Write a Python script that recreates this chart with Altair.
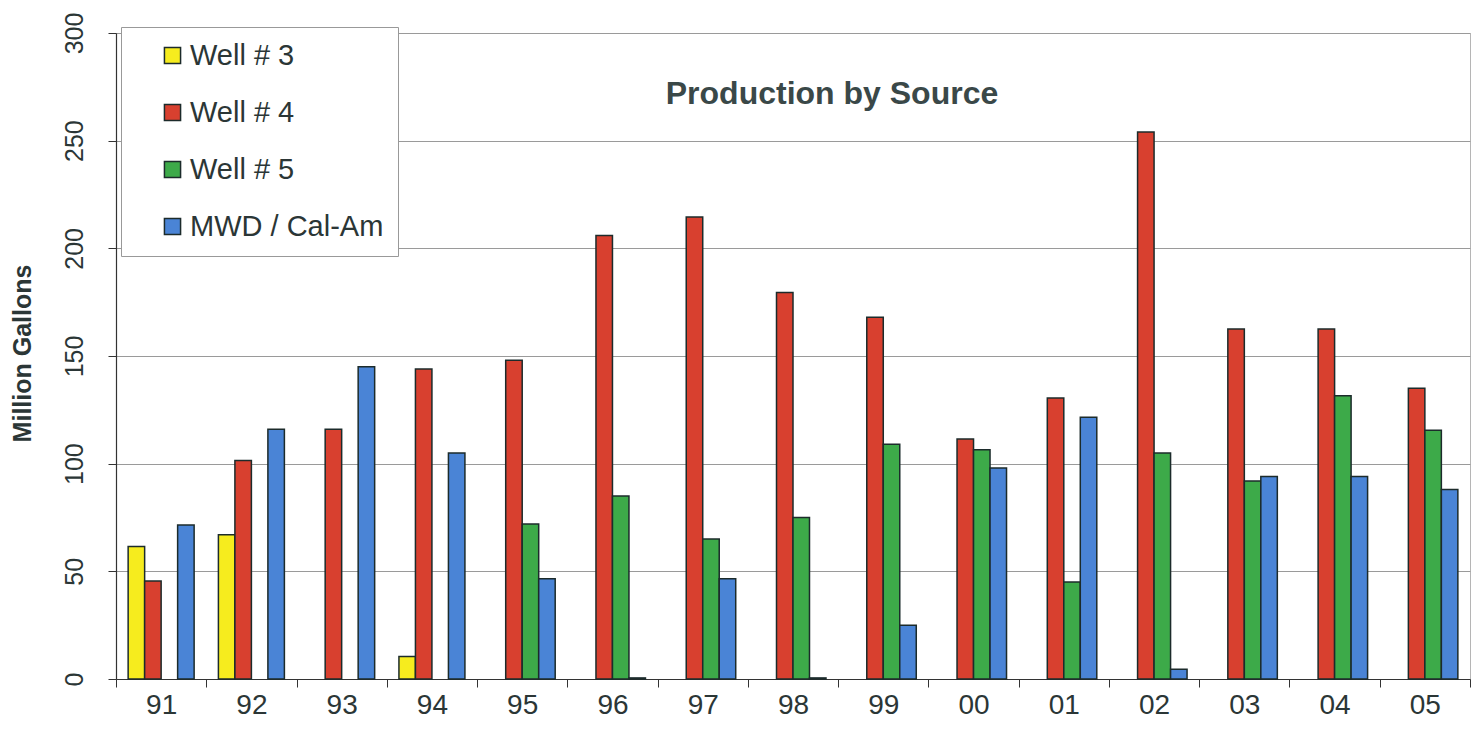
import altair as alt
import pandas as pd

years = ["91", "92", "93", "94", "95", "96", "97", "98", "99", "00", "01", "02", "03", "04", "05"]
sources = ["Well # 3", "Well # 4", "Well # 5", "MWD / Cal-Am"]
title_text = ["Production by Source"]

well3 = [61.5, 67, None, 10.5, None, None, None, None, None, None, None, None, None, None, None]
well4 = [45.5, 101.5, 116, 144, 148, 206, 214.5, 179.5, 168, 111.5, 130.5, 254, 162.5, 162.5, 135]
well5 = [None, None, None, None, 72, 85, 65, 75, 109, 106.5, 45, 105, 92, 131.5, 115.5]
mwd = [71.5, 116, 145, 105, 46.5, 0.5, 46.5, 0.5, 25, 98, 121.5, 4.5, 94, 94, 88]

colors = ["#F6EC1E", "#D8402F", "#3DAA49", "#4A84D6"]
y_ticks = [0, 50, 100, 150, 200, 250, 300]

rows = []
for s, vals in zip(sources, [well3, well4, well5, mwd]):
    for yr, v in zip(years, vals):
        if v is not None:
            rows.append({"year": yr, "source": s, "value": v})
df = pd.DataFrame(rows)

FONT = "Liberation Sans"
TXT = "#2b3636"

bars = alt.Chart(df).mark_bar(stroke="#1c2b2b", strokeWidth=1.5).encode(
    x=alt.X(
        "year:N",
        scale=alt.Scale(domain=years, paddingInner=0, paddingOuter=0),
        axis=alt.Axis(
            title=None, labelAngle=0, tickBand="extent", labelFontSize=28,
            labelFont=FONT, labelColor=TXT, labelPadding=4, tickSize=8,
            tickColor="#333", domainColor="#333", domainWidth=1.2, grid=False,
        ),
    ),
    xOffset=alt.XOffset(
        "source:N",
        scale=alt.Scale(domain=sources, paddingInner=0, paddingOuter=0.736),
    ),
    y=alt.Y(
        "value:Q",
        scale=alt.Scale(domain=[0, 300], nice=False),
        axis=alt.Axis(
            title="Million Gallons", values=y_ticks, labelAngle=270,
            labelAlign="center", labelBaseline="alphabetic", labelPadding=26,
            labelFontSize=25, labelFont=FONT, labelColor=TXT, tickSize=8,
            tickColor="#333", domainColor="#333", domainWidth=1.2,
            gridColor="#9a9a9a", gridWidth=1,
            titleFont=FONT, titleFontSize=25, titleFontWeight="bold", titleColor=TXT,
            titleAngle=270, titleBaseline="middle", titleX=-94, titleY=320,
        ),
    ),
    color=alt.Color(
        "source:N",
        scale=alt.Scale(domain=sources, range=colors),
        legend=alt.Legend(
            title=None, orient="none", legendX=5, legendY=-6,
            symbolType="square", symbolSize=260, symbolStrokeColor="#1c2b2b",
            symbolStrokeWidth=1.5, symbolOffset=23, labelOffset=3,
            labelFontSize=29, labelFont=FONT, labelColor=TXT, labelLimit=400,
            rowPadding=27, padding=14, strokeColor="#999", fillColor="white",
        ),
    ),
)

title = alt.Chart(pd.DataFrame({"t": title_text})).mark_text(
    font=FONT, fontSize=32, fontWeight="bold", color="#3a4848",
    align="center", baseline="alphabetic",
).encode(text="t:N", x=alt.value(716), y=alt.value(71))

chart = alt.layer(bars, title).properties(
    width=1354,
    height=646,
    autosize=alt.AutoSizeParams(type="none"),
    padding={"left": 108, "top": 25, "right": 2, "bottom": 44},
).configure_view(stroke="#b5b5b5", strokeWidth=1)

chart.save("out.html", embed_options={"renderer": "svg", "actions": False})
